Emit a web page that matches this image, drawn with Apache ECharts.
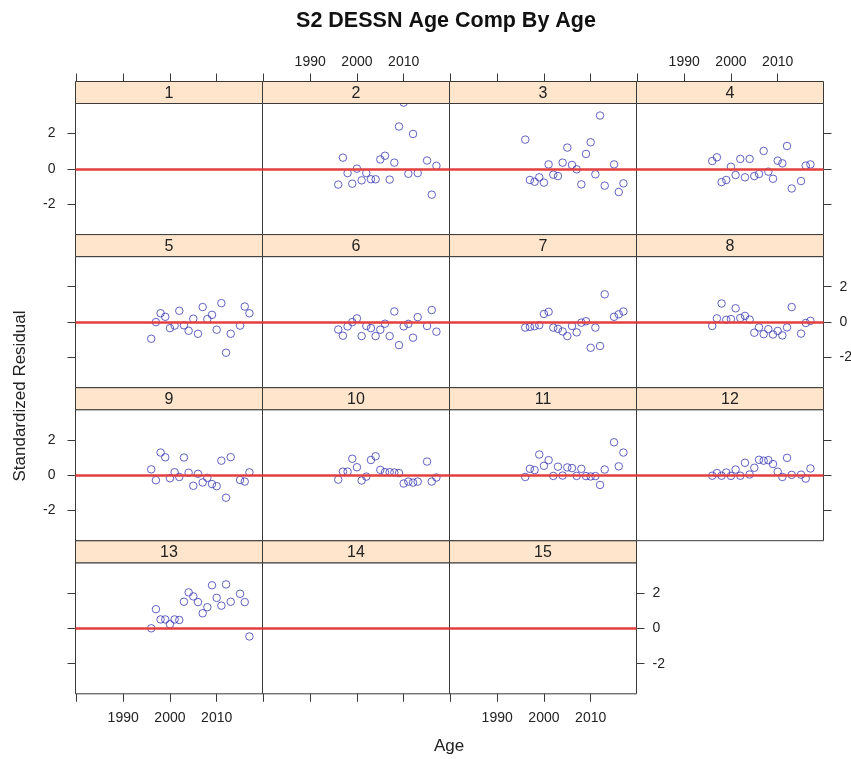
<!DOCTYPE html>
<html><head><meta charset="utf-8">
<script src="https://cdn.jsdelivr.net/npm/echarts@6/dist/echarts.min.js"></script>
<style>html,body{margin:0;padding:0;background:#fff}#c{width:851px;height:759px}</style>
</head><body><div id="c"></div>
<script>
// ---- data ----
const years = [1996,1997,1998,1999,2000,2001,2002,2003,2004,2005,2006,2007,2008,2009,2010,2011,2012,2013,2015,2016,2017];
const panelLabels = ['1','2','3','4','5','6','7','8','9','10','11','12','13','14','15'];
const age1 = [];
const age2 = [-0.88,0.64,-0.23,-0.83,0.02,-0.64,-0.23,-0.58,-0.58,0.54,0.75,-0.6,0.36,2.4,3.75,-0.27,1.98,-0.23,0.48,-1.45,0.18];
const age3 = [1.66,-0.62,-0.72,-0.47,-0.77,0.26,-0.32,-0.4,0.36,1.21,0.23,-0.02,-0.87,0.85,1.51,-0.3,3.02,-0.94,0.26,-1.3,-0.81];
const age4 = [0.45,0.66,-0.74,-0.62,0.13,-0.34,0.57,-0.47,0.57,-0.4,-0.28,1.02,-0.15,-0.55,0.47,0.32,1.3,-1.1,-0.68,0.19,0.26];
const age5 = [-0.94,0,0.5,0.3,-0.34,-0.2,0.64,-0.18,-0.49,0.19,-0.66,0.85,0.17,0.41,-0.43,1.07,-1.73,-0.66,-0.2,0.88,0.5];
const age6 = [-0.42,-0.77,-0.24,0,0.21,-0.79,-0.22,-0.34,-0.79,-0.43,-0.09,-0.79,0.6,-1.3,-0.24,-0.1,-0.88,0.28,-0.22,0.68,-0.54];
const age7 = [-0.31,-0.27,-0.23,-0.17,0.46,0.58,-0.31,-0.38,-0.53,-0.79,-0.22,-0.58,-0.03,0.05,-1.45,-0.31,-1.35,1.57,0.3,0.44,0.6];
const age8 = [-0.22,0.21,1.05,0.13,0.17,0.78,0.23,0.35,0.14,-0.6,-0.3,-0.68,-0.4,-0.7,-0.5,-0.75,-0.3,0.85,-0.65,-0.05,0.07];
const age9 = [0.33,-0.28,1.28,1.01,-0.17,0.17,-0.1,1.0,0.14,-0.6,0.08,-0.41,-0.15,-0.5,-0.62,0.82,-1.27,1.02,-0.27,-0.36,0.16];
const age10 = [-0.25,0.2,0.2,0.93,0.45,-0.3,-0.08,0.86,1.07,0.3,0.17,0.17,0.15,0.12,-0.47,-0.36,-0.42,-0.36,0.77,-0.36,-0.13];
const age11 = [-0.1,0.36,0.29,1.17,0.53,0.85,-0.04,0.48,-0.02,0.44,0.4,-0.04,0.36,-0.05,-0.07,-0.05,-0.55,0.32,1.86,0.5,1.28];
const age12 = [-0.03,0.12,-0.03,0.15,-0.04,0.32,-0.03,0.7,0.04,0.42,0.87,0.82,0.85,0.63,0.2,-0.1,0.98,0.02,0.03,-0.19,0.38];
const age13 = [0.0,1.08,0.5,0.5,0.23,0.5,0.47,1.5,2.03,1.8,1.48,0.85,1.19,2.43,1.72,1.28,2.48,1.5,1.95,1.48,-0.46];
const age14 = [];
const age15 = [];
const xTicks = [1980,1990,2000,2010];
const xTickLabels = [1990,2000,2010];
const yTicks = [-2,0,2];
const xRange = [1979.8, 2019.8];
const yRange = [-3.7, 3.7];

// ---- layout ----
const panels = [age1,age2,age3,age4,age5,age6,age7,age8,age9,age10,age11,age12,age13,age14,age15];
const L = 75.5, W = 187, T0 = 81.5, RH = 153.1, SH = 22, PH = 131;
const BORDER = '#3a3a3a';
const FONT = 'Liberation Sans, Arial, sans-serif';

const grid = [], xAxis = [], yAxis = [], series = [], graphic = [];
panels.forEach((vals, i) => {
  const r = Math.floor(i / 4), c = i % 4;
  const left = L + W * c, stripTop = T0 + RH * r, top = stripTop + SH;
  grid.push({left: left, top: top, width: W, height: PH, show: true,
    borderColor: BORDER, borderWidth: 1, backgroundColor: 'transparent',
    containLabel: false, outerBoundsMode: 'none'});
  const xTickOn = (r === 0) || (r === 3);
  const xLabOn = (r === 0 && c % 2 === 1) || (r === 3 && c % 2 === 0);
  xAxis.push({type: 'value', gridIndex: i, min: xRange[0], max: xRange[1],
    position: r === 0 ? 'top' : 'bottom', offset: r === 0 ? SH : 0,
    axisLine: {show: false, onZero: false}, splitLine: {show: false},
    axisTick: {show: xTickOn, customValues: xTicks, length: 8, lineStyle: {color: BORDER, width: 1}},
    axisLabel: {show: xLabOn, customValues: xTickLabels, margin: r === 0 ? 12 : 17,
      fontSize: 14, color: '#222', fontFamily: FONT, formatter: v => String(v)}});
  const isLeft = c === 0;
  const isRight = (c === 3) || (i === 14);
  const yLabOn = (isLeft && (r === 0 || r === 2)) || (isRight && (r === 1 || r === 3));
  yAxis.push({type: 'value', gridIndex: i, min: yRange[0], max: yRange[1],
    position: isRight ? 'right' : 'left', show: isLeft || isRight,
    axisLine: {show: false, onZero: false}, splitLine: {show: false},
    axisTick: {show: true, customValues: yTicks, length: 8, lineStyle: {color: BORDER, width: 1}},
    axisLabel: {show: yLabOn, customValues: yTicks, margin: isLeft ? 20 : 16,
      fontSize: 14, color: '#222', fontFamily: FONT, formatter: v => String(v)}});
  // zero reference line
  series.push({type: 'scatter', xAxisIndex: i, yAxisIndex: i, data: [], silent: true,
    markLine: {silent: true, symbol: ['none', 'none'], label: {show: false}, animation: false,
      lineStyle: {color: '#e43f3f', width: 2.5, type: 'solid'}, data: [{yAxis: 0}]}});
  if (vals.length) {
    series.push({type: 'scatter', xAxisIndex: i, yAxisIndex: i, clip: false, silent: true, z: 4,
      symbol: 'circle', symbolSize: 7.5,
      itemStyle: {color: 'rgba(0,0,0,0)', borderColor: '#3c3cb4', borderWidth: 1},
      data: vals.map((v, k) => [years[k], v])});
  }
  graphic.push({type: 'rect', z: 10, shape: {x: left, y: stripTop, width: W, height: SH},
    style: {fill: '#ffe5cc', stroke: BORDER, lineWidth: 1}});
  graphic.push({type: 'text', z: 11, x: left + W / 2, y: stripTop + SH / 2 + 1,
    style: {text: panelLabels[i], textAlign: 'center', textVerticalAlign: 'middle',
      fontSize: 16, fontFamily: FONT, fill: '#222'}});
});
graphic.push({type: 'text', z: 11, x: 446, y: 21,
  style: {text: 'S2 DESSN Age Comp By Age', textAlign: 'center', textVerticalAlign: 'middle',
    fontSize: 21.5, fontWeight: 'bold', fontFamily: FONT, fill: '#111'}});
graphic.push({type: 'text', z: 11, x: 449, y: 746,
  style: {text: 'Age', textAlign: 'center', textVerticalAlign: 'middle',
    fontSize: 17, fontFamily: FONT, fill: '#222'}});
graphic.push({type: 'text', z: 11, x: 20, y: 396, rotation: Math.PI / 2,
  style: {text: 'Standardized Residual', textAlign: 'center', textVerticalAlign: 'middle',
    fontSize: 17, fontFamily: FONT, fill: '#222'}});

const chart = echarts.init(document.getElementById('c'), null, {renderer: 'canvas'});
chart.setOption({animation: false, backgroundColor: '#fff', grid, xAxis, yAxis, series, graphic});
</script></body></html>
